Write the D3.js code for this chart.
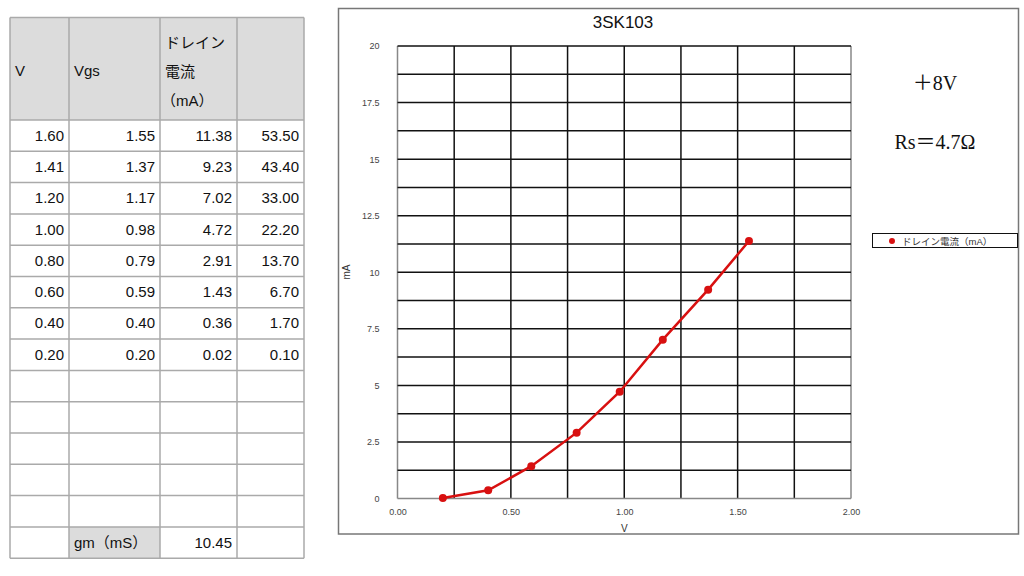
<!DOCTYPE html>
<meta charset="utf-8">
<head>
<style>
body { margin: 0; background: #fff; }
svg { display: block; }
text { font-family: "Liberation Sans", "Noto Sans CJK JP", sans-serif; }
</style>
<script src="https://d3js.org/d3.v7.min.js"></script>
</head>
<body>
<div id="page"></div>
<script>
// table columns
var colV   = ["1.60", "1.41", "1.20", "1.00", "0.80", "0.60", "0.40", "0.20"];
var colVgs = [1.55, 1.37, 1.17, 0.98, 0.79, 0.59, 0.40, 0.20];
var colId  = [11.38, 9.23, 7.02, 4.72, 2.91, 1.43, 0.36, 0.02];
var colP   = ["53.50", "43.40", "33.00", "22.20", "13.70", "6.70", "1.70", "0.10"];
var headers = [["V"], ["Vgs"], ["ドレイン", "電流", "（mA）"], [""]];
var gmLabel = "gm（mS）", gmValue = "10.45";
var emptyRows = 5;

var title = "3SK103";
var seriesName = "ドレイン電流（mA）";
var xTicks = [0, 0.5, 1, 1.5, 2];
var yTicks = [0, 2.5, 5, 7.5, 10, 12.5, 15, 17.5, 20];
var notes = ["＋8V", "Rs＝4.7Ω"];

var width = 1024, height = 576;
var svg = d3.select("#page").append("svg")
    .attr("width", width)
    .attr("height", height);

// ---- table ----
var colX = [10, 69, 160, 237, 304];
var headTop = 17.5, headBottom = 120, rowH = 31.3;
var nRows = colV.length + emptyRows + 1;
var tableBottom = headBottom + nRows * rowH;
var table = svg.append("g");

table.append("rect")
    .attr("x", colX[0]).attr("y", headTop)
    .attr("width", colX[4] - colX[0]).attr("height", headBottom - headTop)
    .attr("fill", "#dcdcdc");
table.append("rect")
    .attr("x", colX[1]).attr("y", headBottom + (nRows - 1) * rowH)
    .attr("width", colX[2] - colX[1]).attr("height", rowH)
    .attr("fill", "#dcdcdc");

var hLines = [headTop, headBottom];
for (var r = 1; r <= nRows; r++) hLines.push(headBottom + r * rowH);
table.selectAll(".hl").data(hLines).enter().append("line")
    .attr("x1", colX[0]).attr("x2", colX[4])
    .attr("y1", function(d) { return d; }).attr("y2", function(d) { return d; })
    .attr("stroke", "#aaa").attr("stroke-width", 1.5);
table.selectAll(".vl").data(colX).enter().append("line")
    .attr("x1", function(d) { return d; }).attr("x2", function(d) { return d; })
    .attr("y1", headTop).attr("y2", tableBottom)
    .attr("stroke", "#aaa").attr("stroke-width", 1.5);

headers.forEach(function(h, i) {
  var y0 = h.length == 1 ? 76 : 48;
  h.forEach(function(s, k) {
    table.append("text")
        .attr("x", colX[i] + (k == 2 ? 1 : 5)).attr("y", y0 + k * 29)
        .attr("font-size", 15).attr("fill", "#111")
        .text(s);
  });
});

var rows = colV.map(function(v, i) {
  return [v, colVgs[i].toFixed(2), colId[i].toFixed(2), colP[i]];
});
rows.forEach(function(row, r) {
  row.forEach(function(s, c) {
    table.append("text")
        .attr("x", colX[c + 1] - 5)
        .attr("y", headBottom + r * rowH + rowH / 2 + 5)
        .attr("text-anchor", "end")
        .attr("font-size", 15).attr("fill", "#111")
        .text(s);
  });
});
var gmY = headBottom + (nRows - 1) * rowH + rowH / 2 + 5;
table.append("text").attr("x", colX[1] + 5).attr("y", gmY)
    .attr("font-size", 15).attr("fill", "#111").text(gmLabel);
table.append("text").attr("x", colX[3] - 5).attr("y", gmY)
    .attr("text-anchor", "end")
    .attr("font-size", 15).attr("fill", "#111").text(gmValue);

// ---- chart ----
svg.append("rect")
    .attr("x", 338.5).attr("y", 8.5)
    .attr("width", 680).attr("height", 525.5)
    .attr("fill", "none").attr("stroke", "#777").attr("stroke-width", 1.5);

svg.append("text")
    .attr("x", 623).attr("y", 28)
    .attr("text-anchor", "middle")
    .attr("font-size", 17).attr("fill", "#111")
    .text(title);

var x = d3.scaleLinear().domain([0, 2]).range([397.5, 851]);
var y = d3.scaleLinear().domain([0, 20]).range([498.5, 46]);

var grid = svg.append("g");
grid.selectAll(".gx").data(d3.range(0, 2.001, 0.25)).enter().append("line")
    .attr("x1", function(d) { return x(d); }).attr("x2", function(d) { return x(d); })
    .attr("y1", y(0)).attr("y2", y(20))
    .attr("stroke", function(d) { return d == 0 || d == 2 ? "#888" : "#111"; })
    .attr("stroke-width", 1.5);
grid.selectAll(".gy").data(d3.range(0, 20.001, 1.25)).enter().append("line")
    .attr("x1", x(0)).attr("x2", x(2))
    .attr("y1", function(d) { return y(d); }).attr("y2", function(d) { return y(d); })
    .attr("stroke", function(d) { return d == 0 ? "#888" : "#111"; })
    .attr("stroke-width", 1.5);

var xAxis = svg.append("g")
    .attr("transform", "translate(0," + y(0) + ")")
    .call(d3.axisBottom(x).tickValues(xTicks).tickSize(0).tickPadding(10)
      .tickFormat(d3.format(".2f")));
var yAxis = svg.append("g")
    .attr("transform", "translate(" + x(0) + ",0)")
    .call(d3.axisLeft(y).tickValues(yTicks).tickSize(0).tickPadding(18)
      .tickFormat(function(d) { return d; }));
[xAxis, yAxis].forEach(function(a) {
  a.select(".domain").remove();
  a.selectAll("text")
      .attr("font-size", 9).attr("fill", "#444");
});

svg.append("text")
    .attr("x", x(1)).attr("y", 532)
    .attr("text-anchor", "middle")
    .attr("font-size", 10).attr("fill", "#333")
    .text("V");
svg.append("text")
    .attr("transform", "translate(350,272) rotate(-90)")
    .attr("text-anchor", "middle")
    .attr("font-size", 10).attr("fill", "#333")
    .text("mA");

var pts = colVgs.map(function(v, i) { return [v, colId[i]]; })
    .sort(function(a, b) { return a[0] - b[0]; });
var line = d3.line()
    .x(function(d) { return x(d[0]); })
    .y(function(d) { return y(d[1]); });
svg.append("path")
    .datum(pts)
    .attr("d", line)
    .attr("fill", "none")
    .attr("stroke", "#d81010")
    .attr("stroke-width", 2.5);
svg.selectAll(".pt").data(pts).enter().append("circle")
    .attr("cx", function(d) { return x(d[0]); })
    .attr("cy", function(d) { return y(d[1]); })
    .attr("r", 4)
    .attr("fill", "#d81010");

// notes (serif, like the pasted text boxes)
notes.forEach(function(s, i) {
  svg.append("text")
      .attr("x", 935).attr("y", 90 + i * 59)
      .attr("text-anchor", "middle")
      .style("font-family", "'Liberation Serif', 'DejaVu Serif', 'Noto Sans CJK JP', serif")
      .attr("font-size", 20).attr("fill", "#111")
      .text(s);
});

// legend
var legend = svg.append("g");
legend.append("rect")
    .attr("x", 872.5).attr("y", 233.5)
    .attr("width", 145).attr("height", 14)
    .attr("fill", "#fff").attr("stroke", "#111").attr("stroke-width", 1);
legend.append("path")
    .attr("d", d3.symbol(d3.symbolCircle, 28)())
    .attr("transform", "translate(892,241)")
    .attr("fill", "#d81010");
legend.append("text")
    .attr("x", 902).attr("y", 244.5)
    .attr("font-size", 9.5).attr("fill", "#333")
    .text(seriesName);
</script>
</body>
